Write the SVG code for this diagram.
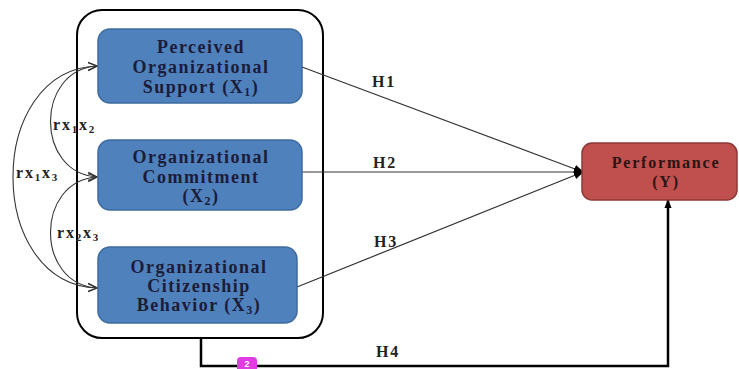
<svg xmlns="http://www.w3.org/2000/svg" width="739" height="369" viewBox="0 0 739 369">
<style>
.box{fill:#4f81bd;stroke:#3d6b9e;stroke-width:1.5}
.perf{fill:#c0504d;stroke:#8c3836;stroke-width:1.5}
.t{font-family:"Liberation Serif",serif;font-weight:bold;font-size:18px;letter-spacing:1.5px;fill:#1c1c38;text-anchor:middle}
.pt{font-family:"Liberation Serif",serif;font-weight:bold;font-size:16px;letter-spacing:1.8px;fill:#2a1414;text-anchor:middle}
.lab{font-family:"Liberation Serif",serif;font-weight:bold;font-size:16px;letter-spacing:1.8px;fill:#222}
.h{stroke:#333;stroke-width:1.2;fill:none;marker-end:url(#fill)}
.cv{stroke:#333;stroke-width:1.1;fill:none;marker-start:url(#open);marker-end:url(#open)}
</style>
<defs>
<marker id="open" viewBox="0 0 10 10" refX="9" refY="5" markerWidth="10" markerHeight="10" markerUnits="userSpaceOnUse" orient="auto-start-reverse">
<path d="M0,1 L9,5 L0,9" fill="none" stroke="#333" stroke-width="1.3"/>
</marker>
<marker id="fill" viewBox="0 0 10 10" refX="9" refY="5" markerWidth="10" markerHeight="10" markerUnits="userSpaceOnUse" orient="auto">
<path d="M0,1 L10,5 L0,9 Z" fill="#000"/>
</marker>
<marker id="up" viewBox="0 0 10 10" refX="9" refY="5" markerWidth="9" markerHeight="9" markerUnits="userSpaceOnUse" orient="auto">
<path d="M0,1 L10,5 L0,9 Z" fill="#000"/>
</marker>
</defs>
<rect width="739" height="369" fill="#fff"/>
<rect id="container" x="77" y="10" width="246" height="328" rx="25" fill="none" stroke="#000" stroke-width="2"/>
<g id="connectors">
<path class="cv" d="M97 66 C35 70,35 173,97 177"/>
<path class="cv" d="M97 66 C-15 70,-15 284,97 288"/>
<path class="cv" d="M97 177 C35 181,35 284,97 288"/>
<path class="h" d="M302 67 L583 172"/>
<path class="h" d="M302 172 L583 172"/>
<path class="h" d="M297 287 L583 172"/>
<path d="M201 338 L201 366 L668 366 L668 200" fill="none" stroke="#000" stroke-width="2.5" marker-end="url(#up)"/>
<text class="lab" x="372" y="87">H1</text>
<text class="lab" x="373" y="168">H2</text>
<text class="lab" x="374" y="247">H3</text>
<text class="lab" x="376" y="357">H4</text>
<text class="lab" x="53" y="130" letter-spacing="1">rx<tspan font-size="11" dy="3">1</tspan><tspan dy="-3">x</tspan><tspan font-size="11" dy="3">2</tspan></text>
<text class="lab" x="16" y="178" letter-spacing="1">rx<tspan font-size="11" dy="3">1</tspan><tspan dy="-3">x</tspan><tspan font-size="11" dy="3">3</tspan></text>
<text class="lab" x="57" y="238" letter-spacing="1">rx<tspan font-size="11" dy="3">2</tspan><tspan dy="-3">x</tspan><tspan font-size="11" dy="3">3</tspan></text>
</g>
<g id="x1">
<rect class="box" x="98" y="29" width="204" height="74" rx="12"/>
<text class="t" x="201" y="53">Perceived</text>
<text class="t" x="201" y="73">Organizational</text>
<text class="t" x="201" y="93">Support (X<tspan font-size="12" dy="3">1</tspan><tspan dy="-3">)</tspan></text>
</g>
<g id="x2">
<rect class="box" x="98" y="140" width="204" height="70" rx="12"/>
<text class="t" x="201" y="163">Organizational</text>
<text class="t" x="201" y="183">Commitment</text>
<text class="t" x="201" y="202">(X<tspan font-size="12" dy="3">2</tspan><tspan dy="-3">)</tspan></text>
</g>
<g id="x3">
<rect class="box" x="98" y="247" width="199" height="76" rx="12"/>
<text class="t" x="199" y="273">Organizational</text>
<text class="t" x="199" y="292">Citizenship</text>
<text class="t" x="199" y="311">Behavior (X<tspan font-size="12" dy="3">3</tspan><tspan dy="-3">)</tspan></text>
</g>
<g id="y">
<rect class="perf" x="582" y="143" width="155" height="57" rx="10"/>
<text class="pt" x="666" y="168">Performance</text>
<text class="pt" x="666" y="187">(Y)</text>
</g>
<g id="badge">
<rect x="237" y="357" width="20" height="18" rx="4" fill="#e33be3"/>
<text x="247" y="367" font-family="Liberation Sans,sans-serif" font-size="9" font-weight="bold" fill="#fff" text-anchor="middle">2</text>
</g>
</svg>
